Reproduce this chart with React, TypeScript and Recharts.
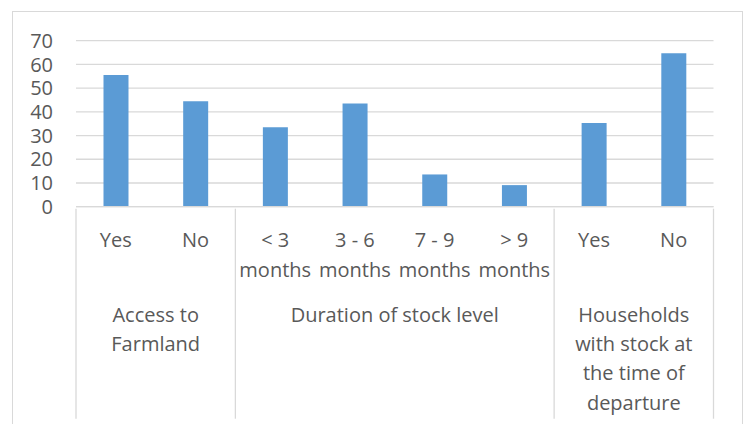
import React from 'react';
import { BarChart, Bar, XAxis, YAxis, CartesianGrid } from 'recharts';

// category labels (one or two lines each)
const categoryLabels: string[][] = [
  ['Yes'],
  ['No'],
  ['< 3', 'months'],
  ['3 - 6', 'months'],
  ['7 - 9', 'months'],
  ['> 9', 'months'],
  ['Yes'],
  ['No'],
];

const values = [55.5, 44.5, 33.5, 43.5, 13.6, 9.1, 35.3, 64.7];

const groupLabels: string[][] = [
  ['Access to', 'Farmland'],
  ['Duration of stock level'],
  ['Households', 'with stock at', 'the time of', 'departure'],
];
const groupSizes = [2, 4, 2];

const yTicks = [0, 10, 20, 30, 40, 50, 60, 70];

const data = values.map((v, i) => ({ key: `c${i}`, value: v }));

const W = 745;
const H = 424;
const PLOT_LEFT = 76;
const PLOT_RIGHT = 713.5;
const PLOT_TOP = 40.7;
const AXIS_Y = 206.7;
const X_AXIS_H = 30;
const BAND = (PLOT_RIGHT - PLOT_LEFT) / values.length;

const TEXT = '#595959';
const LINE = '#d9d9d9';
const FONT = '"Open Sans", sans-serif';

// start index of every group
const groupStarts = groupSizes.map((_, g) => groupSizes.slice(0, g).reduce((a, b) => a + b, 0));

function CategoryTick(props: any) {
  const { x, y, payload } = props;
  const i = payload.index;
  const lines = categoryLabels[i] || [];
  const g = groupStarts.indexOf(i);
  return (
    <g>
      {lines.map((t, k) => (
        <text key={k} x={x} y={y + 38.3 + k * 30} textAnchor="middle" fill={TEXT} fontSize={20} fontFamily={FONT}>
          {t}
        </text>
      ))}
      {g >= 0 && (
        <g>
          <line x1={x - BAND / 2} x2={x - BAND / 2} y1={y} y2={y + 210} stroke={LINE} strokeWidth={1.3} />
          {g === groupSizes.length - 1 && (
            <line
              x1={x + BAND * (groupSizes[g] - 0.5)}
              x2={x + BAND * (groupSizes[g] - 0.5)}
              y1={y}
              y2={y + 210}
              stroke={LINE}
              strokeWidth={1.3}
            />
          )}
          {groupLabels[g].map((t, k) => (
            <text
              key={k}
              x={x + (BAND * (groupSizes[g] - 1)) / 2}
              y={y + 113.3 + k * 29.2}
              textAnchor="middle"
              fill={TEXT}
              fontSize={20}
              fontFamily={FONT}
            >
              {t}
            </text>
          ))}
        </g>
      )}
    </g>
  );
}

export default function App() {
  return (
    <div style={{ position: 'absolute', left: 0, top: 0, width: W, height: H, overflow: 'hidden', background: '#fff' }}>
      <div
        style={{
          position: 'absolute',
          left: 11.5,
          top: 10.5,
          width: 731,
          height: 440,
          border: `1.3px solid ${LINE}`,
          boxSizing: 'border-box',
        }}
      />
      <div style={{ position: 'absolute', left: 0, top: 0 }}>
        <BarChart
          width={W}
          height={H}
          data={data}
          margin={{ top: PLOT_TOP, right: W - PLOT_RIGHT, bottom: H - AXIS_Y - X_AXIS_H, left: 0 }}
          barCategoryGap="34.5%"
        >
          <CartesianGrid vertical={false} stroke={LINE} strokeWidth={1.3} />
          <XAxis
            dataKey="key"
            height={X_AXIS_H}
            interval={0}
            tickLine={false}
            tickSize={0}
            axisLine={{ stroke: LINE, strokeWidth: 1.3 }}
            tick={<CategoryTick />}
          />
          <YAxis
            width={PLOT_LEFT}
            domain={[0, 70]}
            ticks={yTicks}
            interval={0}
            axisLine={false}
            tickLine={false}
            tickSize={0}
            tickMargin={23}
            tick={{ fill: TEXT, fontSize: 20, fontFamily: FONT }}
          />
          <Bar dataKey="value" fill="#5b9bd5" isAnimationActive={false} />
        </BarChart>
      </div>
    </div>
  );
}
